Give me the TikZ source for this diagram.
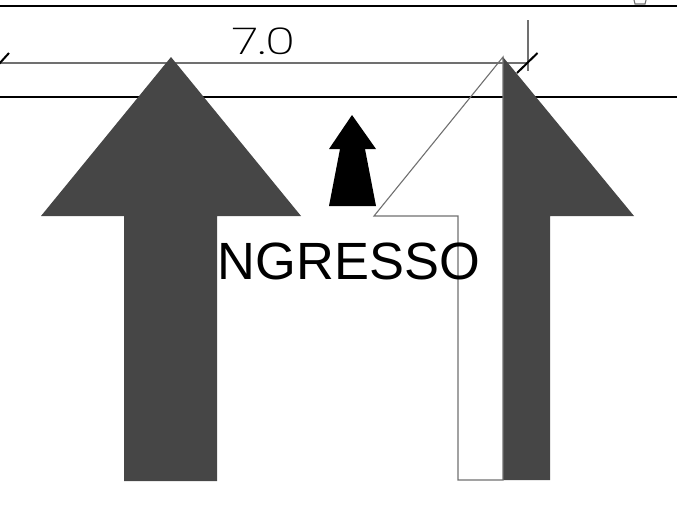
\documentclass[tikz,border=0pt]{standalone}
\usepackage{fontspec}
\setmainfont{Liberation Sans}
\newfontfamily\dimfont{Poppins ExtraLight}
\definecolor{arrowfill}{HTML}{464646}
\definecolor{thinline}{HTML}{707070}
\tikzset{
  bigarrow/.style={fill=arrowfill, draw=none},
  outline/.style={draw=thinline, line width=1.1pt},
  rule/.style={draw=black, line width=1.1pt},
  tick/.style={draw=black, line width=2pt}
}
\begin{document}
\begin{tikzpicture}[x=1pt, y=-1pt]
  \useasboundingbox (0, 0) rectangle (677, 509);
  % road lines
  \draw[rule] (0, 6) -- (677, 6);
  \draw[rule] (0, 97) -- (677, 97);
  % clipped mark at the top edge
  \draw[outline] (634, 0) -- (635, 4) -- (645, 4) -- (646, 0);
  % dimension
  \draw[outline] (0, 63) -- (528, 63);
  \draw[outline] (528, 20) -- (528, 71);
  \draw[tick] (-1, 64) -- (9, 53);
  \draw[tick] (517, 73) -- (537.5, 53);
  \node[font=\dimfont\fontsize{37}{37}\selectfont, xscale=1.35] (dimlabel) at (264, 41) {7.0};
  % left arrow
  \fill[bigarrow] (171, 57) -- (301, 216) -- (217, 216) -- (217, 481) -- (124, 481)
    -- (124, 216) -- (41, 216) -- cycle;
  % right arrow
  \fill[bigarrow] (503, 57) -- (634, 216) -- (550, 216) -- (550, 480) -- (503, 480) -- cycle;
  \draw[outline] (503, 57) -- (374, 216) -- (458, 216) -- (458, 480) -- (503, 480) -- cycle;
  % small arrow
  \fill[black] (352, 115) -- (376, 149) -- (365, 149) -- (376, 206) -- (329, 206)
    -- (340, 149) -- (329, 149) -- cycle;
  \node[font=\fontsize{52.4}{52.4}\selectfont, inner sep=0pt] (ingresso) at (349, 261) {NGRESSO};
\end{tikzpicture}
\end{document}
